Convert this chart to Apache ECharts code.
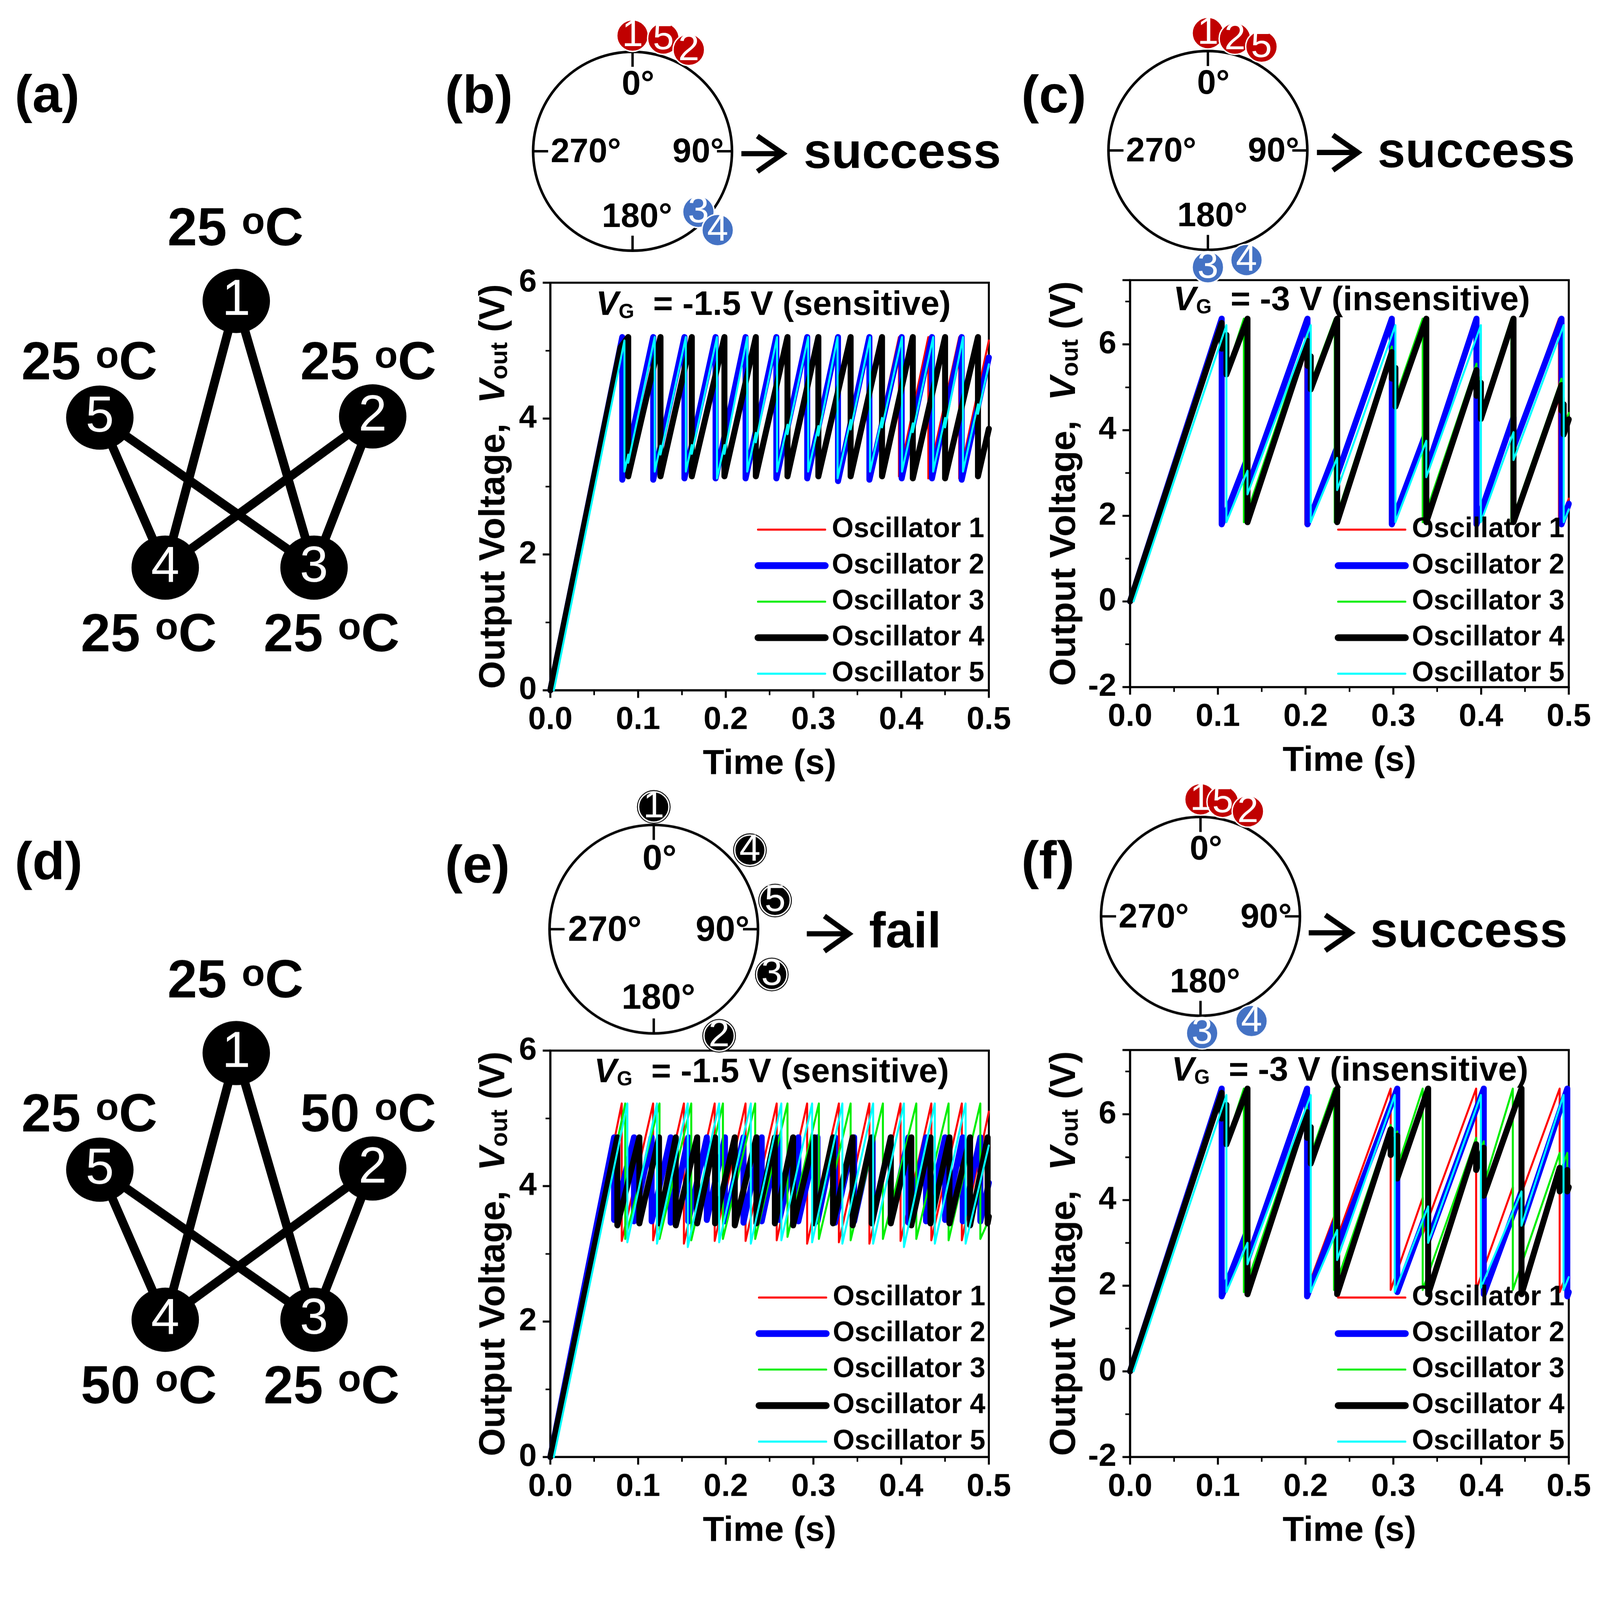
<!DOCTYPE html>
<html>
<head>
<meta charset="utf-8">
<script src="https://cdn.jsdelivr.net/npm/echarts@6/dist/echarts.min.js"></script>
<style>html,body{margin:0;padding:0;background:#fff;overflow:hidden}#c{width:7998px;height:7802px;transform-origin:0 0}</style>
</head>
<body>
<div id="c"></div>
<script>
// ---------------- DATA ----------------
const OSC_NAMES = ['Oscillator 1', 'Oscillator 2', 'Oscillator 3', 'Oscillator 4', 'Oscillator 5'];
const X_MIN = 0, X_MAX = 0.5, X_STEP = 0.1;
const VG_TITLES = ['-1.5 V (sensitive)', '-3 V (insensitive)', '-1.5 V (sensitive)', '-3 V (insensitive)'];
const DEG_LABELS = ['0°', '90°', '180°', '270°'];
const PHASE_RESULT = ['success', 'success', 'fail', 'success'];

// waveform events: [t, v] = point, [t, vTop, vBottom] = vertical drop at t
const B_OSC1 = [[0,0],[0.0815,5.2,3.1],[0.1173,5.2,3.12],[0.1525,5.2,3.12],[0.1875,5.2,3.12],[0.222,5.2,3.12],[0.2572,5.2,3.1],[0.2925,5.2,3.12],[0.3275,5.2,3.12],[0.3628,5.2,3.12],[0.3975,5.2,3.15],[0.431,5.2,3.12],[0.4662,5.2,3.12],[0.5,5.15]];
const B_OSC2 = [[0,0],[0.082,5.2,3.1],[0.1173,5.2,3.1],[0.1529,5.2,3.12],[0.1884,5.2,3.12],[0.2226,5.2,3.12],[0.2577,5.2,3.12],[0.2929,5.2,3.12],[0.328,5.2,3.08],[0.3638,5.2,3.1],[0.4006,5.2,3.12],[0.4351,5.2,3.12],[0.469,5.2,3.1],[0.5,4.9]];
const B_OSC3 = [[0,0],[0.08,5.05],[0.0875,5.2,3.2],[0.125,5.2,3.2],[0.1605,5.2,3.2],[0.1975,5.2,3.2],[0.2335,5.2,3.2],[0.2688,5.2,3.2],[0.305,5.2,3.2],[0.3415,5.2,3.2],[0.3772,5.2,3.18],[0.4125,5.2,3.18],[0.4495,5.2,3.15],[0.4886,5.2,3.15],[0.5,3.8]];
const B_OSC4 = [[0,0],[0.08,5.05],[0.0888,5.2,3.15],[0.1256,5.2,3.15],[0.1613,5.2,3.15],[0.1985,5.2,3.15],[0.2343,5.2,3.15],[0.2704,5.2,3.15],[0.3056,5.2,3.15],[0.3424,5.2,3.15],[0.3782,5.2,3.15],[0.4133,5.2,3.12],[0.4501,5.2,3.12],[0.4876,5.2,3.15],[0.5,3.85]];
const B_OSC5 = [[0.004,0],[0.0845,5.15,3.22],[0.0888,3.47,3.35],[0.119,5.2,3.22],[0.1256,3.6,3.47],[0.1545,5.2,3.22],[0.1613,3.61,3.48],[0.19,5.2,3.12],[0.1985,3.61,3.48],[0.2245,5.2,3.22],[0.2343,3.79,3.65],[0.2585,5.2,3.22],[0.2704,3.91,3.77],[0.294,5.2,3.22],[0.3056,3.89,3.75],[0.3275,5.2,3.12],[0.3424,3.98,3.84],[0.3645,5.2,3.22],[0.3782,4.01,3.87],[0.401,5.2,3.22],[0.4133,3.93,3.8],[0.4365,5.2,3.22],[0.4501,4.01,3.87],[0.4705,5.2,3.22],[0.4876,4.21,4.07],[0.5,4.8]];

const C_OSC1 = [[0,0],[0.1023,6.55,1.8],[0.1338,3.3,2.65],[0.1997,6.6,1.8],[0.236,3.65,2.95],[0.2962,6.6,1.8],[0.3376,3.95,3.1],[0.3925,6.6,1.8],[0.437,4.35,3.65],[0.4888,6.6,1.8],[0.5,2.4]];
const C_OSC2 = [[0,0],[0.1044,6.6,1.8],[0.1338,3.35,2.65],[0.2022,6.6,1.8],[0.236,3.6,2.95],[0.2983,6.6,1.8],[0.3376,3.95,3.05],[0.3948,6.6,1.8],[0.437,4.3,3.6],[0.4917,6.6,1.8],[0.5,2.28]];
const C_OSC3 = [[0,0],[0.1044,6.5,5.9],[0.1098,6.22,5.35],[0.1297,6.6,1.85],[0.2022,6.25,5.65],[0.2059,5.87,5.1],[0.2332,6.6,1.85],[0.2983,5.95,5.35],[0.3024,5.6,4.75],[0.3335,6.6,1.85],[0.3948,5.55,4.95],[0.3998,5.25,4.4],[0.4345,6.6,1.85],[0.4917,5.2,4.6],[0.4942,4.75,4.05],[0.5,4.4]];
const C_OSC4 = [[0,0],[0.1044,6.5,5.9],[0.1098,6.22,5.3],[0.1338,6.6,1.85],[0.2022,6.08,5.5],[0.2059,5.72,4.95],[0.236,6.6,1.85],[0.2983,5.82,5.2],[0.3024,5.45,4.55],[0.3376,6.6,1.85],[0.3948,5.4,4.8],[0.3998,5.1,4.26],[0.437,6.6,1.85],[0.4917,5.05,4.45],[0.4942,4.6,3.9],[0.5,4.25]];
const C_OSC5 = [[0.004,0],[0.1098,6.45,1.85],[0.1338,3.05,2.5],[0.2059,6.45,1.85],[0.236,3.35,2.6],[0.3024,6.45,1.85],[0.3376,3.75,2.9],[0.3998,6.45,1.85],[0.437,3.95,3.3],[0.4942,6.45,1.85],[0.5,2.15]];

const E_OSC1 = [[0,0],[0.0814,5.22,3.19],[0.1172,5.22,3.2],[0.1523,5.22,3.15],[0.1874,5.22,3.19],[0.2226,5.22,3.19],[0.2581,5.22,3.2],[0.2928,5.22,3.15],[0.329,5.22,3.17],[0.3638,5.22,3.15],[0.3993,5.22,3.19],[0.4344,5.22,3.2],[0.4692,5.22,3.2],[0.5,5.1]];
const E_OSC2 = [[0,0],[0.0727,4.72,3.5],[0.0954,4.72,3.48],[0.1155,4.72,3.48],[0.1372,4.72,3.46],[0.1573,4.72,3.48],[0.1784,4.72,3.5],[0.1991,4.72,3.48],[0.2202,4.72,3.46],[0.241,4.72,3.48],[0.2611,4.72,3.5],[0.2828,4.72,3.48],[0.3046,4.72,3.48],[0.3246,4.72,3.46],[0.3464,4.72,3.48],[0.3675,4.72,3.5],[0.3882,4.72,3.48],[0.4083,4.72,3.46],[0.4284,4.72,3.48],[0.4501,4.72,3.5],[0.4702,4.72,3.48],[0.4903,4.72,3.48],[0.5,4.05]];
const E_OSC3 = [[0,0],[0.0854,5.22,3.22],[0.1245,5.22,3.22],[0.1607,5.22,3.2],[0.1968,5.22,3.22],[0.2336,5.22,3.22],[0.2704,5.22,3.25],[0.3062,5.22,3.22],[0.3424,5.22,3.2],[0.3792,5.22,3.22],[0.4173,5.22,3.22],[0.4541,5.22,3.2],[0.4903,5.22,3.22],[0.5,3.5]];
const E_OSC4 = [[0,0],[0.0764,4.72,3.42],[0.1015,4.72,3.45],[0.1239,4.72,3.45],[0.143,4.72,3.42],[0.1674,4.72,3.45],[0.1878,4.72,3.45],[0.2103,4.72,3.42],[0.235,4.72,3.45],[0.256,4.72,3.45],[0.2768,4.72,3.42],[0.3012,4.72,3.45],[0.3223,4.72,3.45],[0.3447,4.72,3.42],[0.3664,4.72,3.45],[0.3882,4.72,3.45],[0.4116,4.72,3.42],[0.4334,4.72,3.45],[0.4551,4.72,3.45],[0.4786,4.72,3.42],[0.4986,4.72,3.45],[0.5,3.55]];
const E_OSC5 = [[0.004,0],[0.0878,5.22,3.17],[0.1216,5.22,3.15],[0.1567,5.22,3.1],[0.1925,5.22,3.17],[0.2286,5.22,3.15],[0.2634,5.22,3.2],[0.2985,5.22,3.17],[0.333,5.22,3.15],[0.3681,5.22,3.15],[0.4032,5.22,3.1],[0.4384,5.22,3.15],[0.4735,5.22,3.15],[0.5,4.6]];

const F_OSC1 = [[0,0],[0.1023,6.55,1.75],[0.1338,3.3,2.65],[0.1997,6.6,1.8],[0.2332,3.65,2.95],[0.297,6.6,1.9],[0.3335,4.05,3.2],[0.3944,6.6,1.9],[0.4362,4.3,3.6],[0.4896,6.6,1.85],[0.5,2.4]];
const F_OSC2 = [[0,0],[0.1044,6.6,1.75],[0.1338,3.3,2.6],[0.2017,6.6,1.75],[0.236,3.6,2.9],[0.3045,6.6,1.85],[0.3397,3.8,3.05],[0.4031,6.6,1.8],[0.4461,4.2,3.4],[0.4983,6.6,1.75],[0.5,1.85]];
const F_OSC3 = [[0,0],[0.1044,6.5,5.9],[0.1098,6.22,5.35],[0.1297,6.6,1.85],[0.2017,6.2,5.6],[0.2059,5.85,5.05],[0.2324,6.6,1.9],[0.297,5.75,5.15],[0.3045,5.6,4.75],[0.3335,6.6,1.9],[0.3944,5.45,4.85],[0.4031,5.37,4.35],[0.4362,6.6,1.9],[0.4896,5.1,4.6],[0.4983,5.1,4.5],[0.5,4.6]];
const F_OSC4 = [[0,0],[0.1044,6.5,5.9],[0.1098,6.22,5.3],[0.1338,6.6,1.8],[0.2017,6.05,5.45],[0.2059,5.7,4.85],[0.236,6.6,1.8],[0.297,5.65,5.05],[0.3045,5.5,4.5],[0.3397,6.6,1.8],[0.3944,5.3,4.7],[0.4031,5.22,4.1],[0.4461,6.6,1.8],[0.4896,4.75,4.2],[0.4983,4.7,4.2],[0.5,4.3]];
const F_OSC5 = [[0.004,0],[0.1098,6.45,1.85],[0.1338,3.0,2.5],[0.2059,6.45,1.85],[0.236,3.3,2.6],[0.3016,6.45,1.85],[0.3397,3.85,3.0],[0.3998,6.45,1.95],[0.4461,4.2,3.4],[0.494,6.45,1.9],[0.5,2.2]];

// phase markers: [oscillator, phase angle (deg), radial position (circle = 1), group]
const B_PHASE = [['1',0,1.163,'r'],['5',15.3,1.175,'r'],['2',29,1.167,'r'],['3',132.6,0.9,'b'],['4',132.8,1.167,'b']];
const C_PHASE = [['1',0,1.18,'r'],['2',13.6,1.157,'r'],['5',27.3,1.175,'r'],['3',180,1.175,'b'],['4',160.6,1.169,'b']];
const E_PHASE = [['1',0,1.173,'k'],['4',50.6,1.194,'k'],['5',76.7,1.196,'k'],['3',111,1.213,'k'],['2',148.5,1.2,'k']];
const F_PHASE = [['1',0,1.177,'r'],['5',11,1.173,'r'],['2',24.3,1.159,'r'],['3',179.2,1.175,'b'],['4',154,1.171,'b']];

// network graph
const GRAPH_NODES = ['1','2','3','4','5'];
const NODE_X = [0.5, 1.0, 0.785, 0.2397, 0.0];
const NODE_Y = [0.0, 0.4329, 1.0, 1.0, 0.4374];
const GRAPH_EDGES = [['1','4'],['1','3'],['5','4'],['5','3'],['2','4'],['2','3']];
const TEMPS_A = ['25','25','25','25','25'];
const TEMPS_D = ['25','50','25','50','25'];

// ---------------- STYLE / LAYOUT ----------------
const W = 7998, H = 7802;
const FONT = '"Liberation Sans", Arial, Helvetica, sans-serif';
const OSC_COLORS = ['#FF0000', '#0000FF', '#00EE00', '#000000', '#00FFFF'];
const OSC_WIDTHS = [10, 30, 10, 30, 10];
const LEGEND_WIDTHS = [10, 34, 10, 34, 10];
const PHASE_COLORS = { r: '#C00000', b: '#4472C4', k: '#000000' };
const OUTER = 1.3; // radial extent of the marker layer

const PANELS = [
  { left: 2751, top: 1413, width: 2192, height: 2037, ymin: 0, ymax: 6, data: [B_OSC1,B_OSC2,B_OSC3,B_OSC4,B_OSC5], tx: 3866, ty: 1527, lg: [3767, 2572], gap: 190 },
  { left: 5649, top: 1400, width: 2193, height: 2034, ymin: -2, ymax: 7.5, data: [C_OSC1,C_OSC2,C_OSC3,C_OSC4,C_OSC5], tx: 6757, ty: 1503, lg: [6667, 2572], gap: 235 },
  { left: 2751, top: 5251, width: 2192, height: 2031, ymin: 0, ymax: 6, data: [E_OSC1,E_OSC2,E_OSC3,E_OSC4,E_OSC5], tx: 3857, ty: 5362, lg: [3772, 6410], gap: 190 },
  { left: 5649, top: 5248, width: 2193, height: 2034, ymin: -2, ymax: 7.5, data: [F_OSC1,F_OSC2,F_OSC3,F_OSC4,F_OSC5], tx: 6748, ty: 5355, lg: [6667, 6410], gap: 235 }
];
const POLARS = [
  { c: [3162, 756], r: 497, m: B_PHASE, size: 158, fs: 170, mfs: 190, arrow: [3706, 3786, 3914, 680, 768, 857], res: [4017, 771] },
  { c: [6038, 752], r: 497, m: C_PHASE, size: 158, fs: 170, mfs: 190, arrow: [6583, 6663, 6788, 675, 762, 851], res: [6886, 766] },
  { c: [3268, 4644], r: 521, m: E_PHASE, size: 152, fs: 178, mfs: 190, arrow: [4033, 4121, 4244, 4578, 4667, 4754], res: [4344, 4666] },
  { c: [6001, 4580], r: 497, m: F_PHASE, size: 158, fs: 170, mfs: 190, arrow: [6542, 6625, 6754, 4573, 4662, 4751], res: [6849, 4664] }
];
const DEG_OFFSETS = [[0.055, -0.665], [0.66, 0.016], [0.045, 0.668], [-0.47, 0.016]];
const GRAPH_BOXES = [
  { left: 499, top: 1504, width: 1364, height: 1333, temps: TEMPS_A },
  { left: 499, top: 5263, width: 1364, height: 1333, temps: TEMPS_D }
];
const TEMP_OFFSETS = [[-4, -351], [-22, -258], [88, 344], [-82, 344], [-52, -264]];
const PANEL_LABELS = [['(a)', 73, 488], ['(b)', 2224, 489], ['(c)', 5105, 489], ['(d)', 73, 4320], ['(e)', 2224, 4337], ['(f)', 5105, 4316]];

function buildLine(ev) {
  const out = [];
  ev.forEach(e => { out.push([e[0], e[1]]); if (e.length > 2) out.push([e[0], e[2]]); });
  return out;
}

const grids = [], xAxes = [], yAxes = [], series = [], legends = [], graphics = [];
const polar = [], angleAxis = [], radiusAxis = [];

PANELS.forEach((p, i) => {
  grids.push({ left: p.left, top: p.top, width: p.width, height: p.height, show: true, borderColor: '#000', borderWidth: 10, backgroundColor: 'rgba(0,0,0,0)', containLabel: false, outerBoundsMode: 'none' });
  xAxes.push({
    gridIndex: i, type: 'value', min: X_MIN, max: X_MAX, interval: X_STEP,
    name: 'Time (s)', nameLocation: 'middle', nameGap: 283,
    nameTextStyle: { fontSize: 175, fontWeight: 'bold', color: '#000', fontFamily: FONT },
    axisLine: { show: true, onZero: false, lineStyle: { color: '#000', width: 10 } },
    axisTick: { show: true, inside: false, length: 38, lineStyle: { color: '#000', width: 10 } },
    minorTick: { show: true, splitNumber: 2, length: 24, lineStyle: { color: '#000', width: 8 } },
    axisLabel: { show: true, fontSize: 160, fontWeight: 'bold', color: '#000', fontFamily: FONT, margin: 70, formatter: v => v.toFixed(1) },
    splitLine: { show: false }, minorSplitLine: { show: false }
  });
  yAxes.push({
    gridIndex: i, type: 'value', min: p.ymin, max: p.ymax, interval: 2,
    name: '{a|Output Voltage,  }{b|V}{c|out}{a| (V)}', nameLocation: 'middle', nameGap: p.gap,
    nameTextStyle: { color: '#000', rich: {
      a: { fontSize: 180, fontWeight: 'bold', color: '#000', fontFamily: FONT, lineHeight: 180 },
      b: { fontSize: 180, fontWeight: 'bold', fontStyle: 'italic', color: '#000', fontFamily: FONT, lineHeight: 180 },
      c: { fontSize: 120, fontWeight: 'bold', color: '#000', fontFamily: FONT, lineHeight: 70, verticalAlign: 'bottom' }
    } },
    axisLine: { show: true, onZero: false, lineStyle: { color: '#000', width: 10 } },
    axisTick: { show: true, inside: false, length: 38, lineStyle: { color: '#000', width: 10 } },
    minorTick: { show: true, splitNumber: 2, length: 24, lineStyle: { color: '#000', width: 8 } },
    axisLabel: { show: true, fontSize: 160, fontWeight: 'bold', color: '#000', fontFamily: FONT, margin: 68,
      showMaxLabel: p.ymax === 6,
      formatter: v => (Math.abs(v - Math.round(v)) < 1e-9 && Math.round(v) % 2 === 0) ? String(Math.round(v)) : '' },
    splitLine: { show: false }, minorSplitLine: { show: false }
  });
  p.data.forEach((d, k) => {
    series.push({
      type: 'line', name: OSC_NAMES[k], xAxisIndex: i, yAxisIndex: i, data: buildLine(d),
      symbol: 'none', showSymbol: false, clip: true, animation: false, silent: true, z: 2,
      lineStyle: { color: OSC_COLORS[k], width: OSC_WIDTHS[k], cap: 'round', join: 'round' },
      itemStyle: { color: OSC_COLORS[k] }, emphasis: { disabled: true }
    });
  });
  legends.push({
    orient: 'vertical', left: p.lg[0], top: p.lg[1], itemWidth: 336, itemHeight: 30, itemGap: 40,
    selectedMode: false, itemStyle: { opacity: 0 }, lineStyle: { opacity: 1 },
    textStyle: { fontSize: 140, fontWeight: 'bold', color: '#000', fontFamily: FONT, lineHeight: 140, padding: [0, 0, 0, 28] },
    data: OSC_NAMES.map((n, k) => ({ name: n, lineStyle: { width: LEGEND_WIDTHS[k], color: OSC_COLORS[k], opacity: 1 }, itemStyle: { opacity: 0 } }))
  });
  graphics.push({
    type: 'text', x: p.tx, y: p.ty, z: 50,
    style: {
      text: '{v|V}{g|G}{t|  = ' + VG_TITLES[i] + '}', align: 'center', verticalAlign: 'middle',
      rich: {
        v: { fontSize: 170, fontWeight: 'bold', fontStyle: 'italic', fontFamily: FONT, fill: '#000', lineHeight: 170 },
        g: { fontSize: 100, fontWeight: 'bold', fontFamily: FONT, fill: '#000', lineHeight: 55, verticalAlign: 'bottom' },
        t: { fontSize: 170, fontWeight: 'bold', fontFamily: FONT, fill: '#000', lineHeight: 170 }
      }
    }
  });
});

POLARS.forEach((q, i) => {
  const pa = polar.length;
  // circle with phase ticks
  polar.push({ center: q.c, radius: q.r });
  angleAxis.push({
    polarIndex: pa, type: 'value', min: 0, max: 360, interval: 90, startAngle: 90, clockwise: true,
    axisLine: { show: true, lineStyle: { color: '#000', width: 13 } },
    axisTick: { show: true, inside: true, length: 75, lineStyle: { color: '#000', width: 12 } },
    axisLabel: { show: false }, splitLine: { show: false }, splitArea: { show: false }
  });
  radiusAxis.push({ polarIndex: pa, type: 'value', min: 0, max: 1, show: false });
  // marker layer, same centre, radial unit = circle radius
  const pb = polar.length;
  polar.push({ center: q.c, radius: q.r * OUTER });
  angleAxis.push({
    polarIndex: pb, type: 'value', min: 0, max: 360, startAngle: 90, clockwise: true, show: false,
    axisLine: { show: false }, axisTick: { show: false }, axisLabel: { show: false }, splitLine: { show: false }
  });
  radiusAxis.push({ polarIndex: pb, type: 'value', min: 0, max: OUTER, show: false });
  const hasBlack = q.m.some(m => m[3] === 'k');
  if (hasBlack) {
    series.push({
      type: 'scatter', coordinateSystem: 'polar', polarIndex: pb, silent: true, animation: false, z: 9,
      symbol: 'circle', symbolSize: q.size + 16,
      data: q.m.map(m => ({ name: m[0], value: [m[2], m[1]] })),
      itemStyle: { color: '#000', opacity: 1 }, label: { show: false }, emphasis: { disabled: true }
    });
  }
  series.push({
    type: 'scatter', coordinateSystem: 'polar', polarIndex: pb, silent: true, animation: false, z: 10,
    symbol: 'circle', symbolSize: q.size,
    data: q.m.map(m => ({ name: m[0], value: [m[2], m[1]], itemStyle: { color: PHASE_COLORS[m[3]] } })),
    itemStyle: { borderColor: '#fff', borderWidth: 7, opacity: 1 },
    label: { show: true, position: 'inside', formatter: '{b}', color: '#fff', fontSize: q.mfs, fontFamily: FONT, fontWeight: 'normal' },
    emphasis: { disabled: true }
  });
  DEG_LABELS.forEach((t, k) => {
    graphics.push({
      type: 'text', x: q.c[0] + DEG_OFFSETS[k][0] * q.r, y: q.c[1] + DEG_OFFSETS[k][1] * q.r, z: 50,
      style: { text: t, fontSize: q.fs, fontWeight: 'bold', fontFamily: FONT, fill: '#000', align: 'center', verticalAlign: 'middle' }
    });
  });
  const a = q.arrow;
  graphics.push({ type: 'polyline', z: 50, shape: { points: [[a[0], a[4]], [a[2] - 12, a[4]]] }, style: { stroke: '#000', lineWidth: 26, fill: null } });
  graphics.push({ type: 'polyline', z: 50, shape: { points: [[a[1], a[3]], [a[2], a[4]], [a[1], a[5]]] }, style: { stroke: '#000', lineWidth: 26, fill: null, lineJoin: 'miter', miterLimit: 10 } });
  graphics.push({
    type: 'text', x: q.res[0], y: q.res[1], z: 50,
    style: { text: PHASE_RESULT[i], fontSize: 250, fontWeight: 'bold', fontFamily: FONT, fill: '#000', align: 'left', verticalAlign: 'middle' }
  });
});

GRAPH_BOXES.forEach((g, j) => {
  const gi = 4 + j;
  grids.push({ left: g.left, top: g.top, width: g.width, height: g.height, show: false, containLabel: false, outerBoundsMode: 'none' });
  xAxes.push({ gridIndex: gi, type: 'value', min: 0, max: 1, show: false });
  yAxes.push({ gridIndex: gi, type: 'value', min: 0, max: 1, inverse: true, show: false });
  series.push({
    type: 'graph', coordinateSystem: 'cartesian2d', xAxisIndex: gi, yAxisIndex: gi, layout: 'none',
    silent: true, animation: false, z: 3, symbol: 'circle', symbolSize: [337, 321],
    data: GRAPH_NODES.map((n, k) => ({ name: n, value: [NODE_X[k], NODE_Y[k]] })),
    links: GRAPH_EDGES.map(e => ({ source: e[0], target: e[1] })),
    edgeSymbol: ['none', 'none'],
    itemStyle: { color: '#000', opacity: 1 },
    lineStyle: { color: '#000', width: 44, opacity: 1, curveness: 0 },
    label: { show: true, position: 'inside', formatter: '{b}', color: '#fff', fontSize: 255, fontFamily: FONT, fontWeight: 'normal' },
    emphasis: { disabled: true }
  });
  GRAPH_NODES.forEach((n, k) => {
    const px = g.left + NODE_X[k] * g.width + TEMP_OFFSETS[k][0];
    const py = g.top + NODE_Y[k] * g.height + TEMP_OFFSETS[k][1];
    graphics.push({
      type: 'text', x: px, y: py, z: 50,
      style: {
        text: '{n|' + g.temps[k] + ' }{s|o}{n|C}', align: 'center', verticalAlign: 'middle',
        rich: {
          n: { fontSize: 267, fontWeight: 'bold', fontFamily: FONT, fill: '#000', lineHeight: 267 },
          s: { fontSize: 190, fontWeight: 'bold', fontFamily: FONT, fill: '#000', lineHeight: 140, verticalAlign: 'top' }
        }
      }
    });
  });
});

PANEL_LABELS.forEach(l => {
  graphics.push({ type: 'text', x: l[1], y: l[2], z: 50, style: { text: l[0], fontSize: 266, fontWeight: 'bold', fontFamily: FONT, fill: '#000', align: 'left', verticalAlign: 'middle' } });
});

// fit the 7998x7802 design into the actual window
const el = document.getElementById('c');
const s = (window.innerWidth || W) / W;
el.style.transform = 'scale(' + s + ')';
const chart = echarts.init(el, null, { renderer: 'canvas', width: W, height: H, devicePixelRatio: (window.devicePixelRatio || 1) * s });
chart.setOption({
  backgroundColor: '#ffffff',
  animation: false,
  textStyle: { fontFamily: FONT },
  grid: grids, xAxis: xAxes, yAxis: yAxes,
  polar: polar, angleAxis: angleAxis, radiusAxis: radiusAxis,
  legend: legends, series: series,
  graphic: { elements: graphics }
});
</script>
</body>
</html>
